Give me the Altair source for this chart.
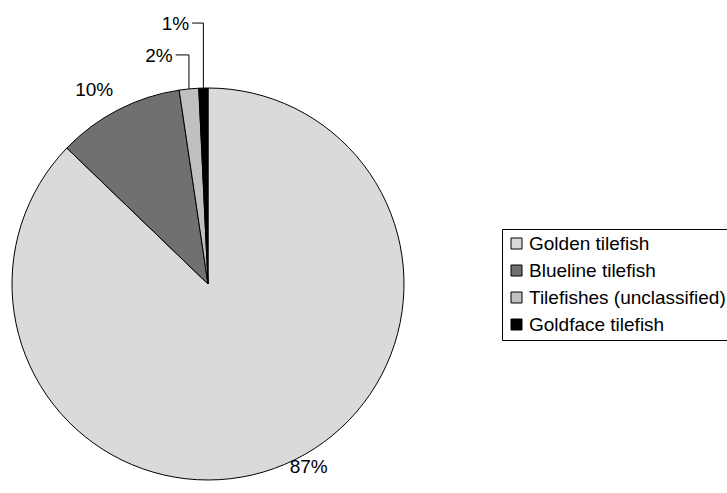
import math

import altair as alt
import pandas as pd

# Landings composition by species (percent of total)
species = [
    "Golden tilefish",
    "Blueline tilefish",
    "Tilefishes (unclassified)",
    "Goldface tilefish",
]
share = [87.2, 10.45, 1.6, 0.75]
fills = ["#dadada", "#707070", "#c0c0c0", "#000000"]

# Pie geometry and typography
CX, CY, R = 208, 284, 196
FONT = "Liberation Sans"
FS = 19

# Label placement relative to the slice edge at its mid-angle: (dx, dy, leader line)
label_place = {
    "Golden tilefish": (24, 3, False),
    "Blueline tilefish": (-24, -20, False),
    "Tilefishes (unclassified)": (-30, -33, True),
    "Goldface tilefish": (-28, -64, True),
}

slices = []
leaders = []
start = 0.0
for i, (name, v) in enumerate(zip(species, share)):
    mid = (start + v / 2) / 100 * 2 * math.pi
    start += v
    ex = CX + R * math.sin(mid)
    ey = CY - R * math.cos(mid)
    dx, dy, lead = label_place[name]
    lx, ly = ex + dx, ey + dy
    text = f"{round(v)}%"
    slices.append(dict(species=name, share=v, idx=i, label=text, lx=lx, ly=ly))
    if lead:
        half_w = FS * 1.445 / 2
        pts = [(lx + half_w + 3, ly - 1), (ex, ly - 1), (ex, ey)]
        for k, (px, py) in enumerate(pts):
            leaders.append(dict(species=name, step=k, px=px, py=py))

df = pd.DataFrame(slices)
lead_df = pd.DataFrame(leaders)

pie = (
    alt.Chart(df)
    .mark_arc(outerRadius=R, stroke="black", strokeWidth=1)
    .encode(
        x=alt.value(CX),
        y=alt.value(CY),
        theta=alt.Theta("share:Q", stack=True),
        order=alt.Order("idx:Q"),
        color=alt.Color(
            "species:N",
            sort=species,
            scale=alt.Scale(domain=species, range=fills),
            legend=alt.Legend(
                title=None,
                orient="none",
                legendX=502,
                legendY=229,
                padding=5,
                strokeColor="black",
                symbolType="square",
                symbolSize=121,
                symbolStrokeColor="black",
                symbolStrokeWidth=1,
                symbolOpacity=1,
                labelFont=FONT,
                labelFontSize=FS,
                labelColor="black",
                labelOffset=3,
                labelLimit=400,
                rowPadding=7,
            ),
        ),
    )
)

labels = (
    alt.Chart(df)
    .mark_text(font=FONT, fontSize=FS, color="black", align="center", baseline="middle")
    .encode(
        x=alt.X("lx:Q", scale=None),
        y=alt.Y("ly:Q", scale=None),
        text="label:N",
    )
)

leader_lines = (
    alt.Chart(lead_df)
    .mark_line(color="black", strokeWidth=1)
    .encode(
        x=alt.X("px:Q", scale=None),
        y=alt.Y("py:Q", scale=None),
        detail="species:N",
        order="step:Q",
    )
)

chart = (
    alt.layer(pie, leader_lines, labels)
    .properties(width=727, height=493, padding=0, autosize="none", background="white")
    .configure_view(stroke=None)
)

chart.save("out.html", embed_options={"renderer": "svg", "actions": False})
